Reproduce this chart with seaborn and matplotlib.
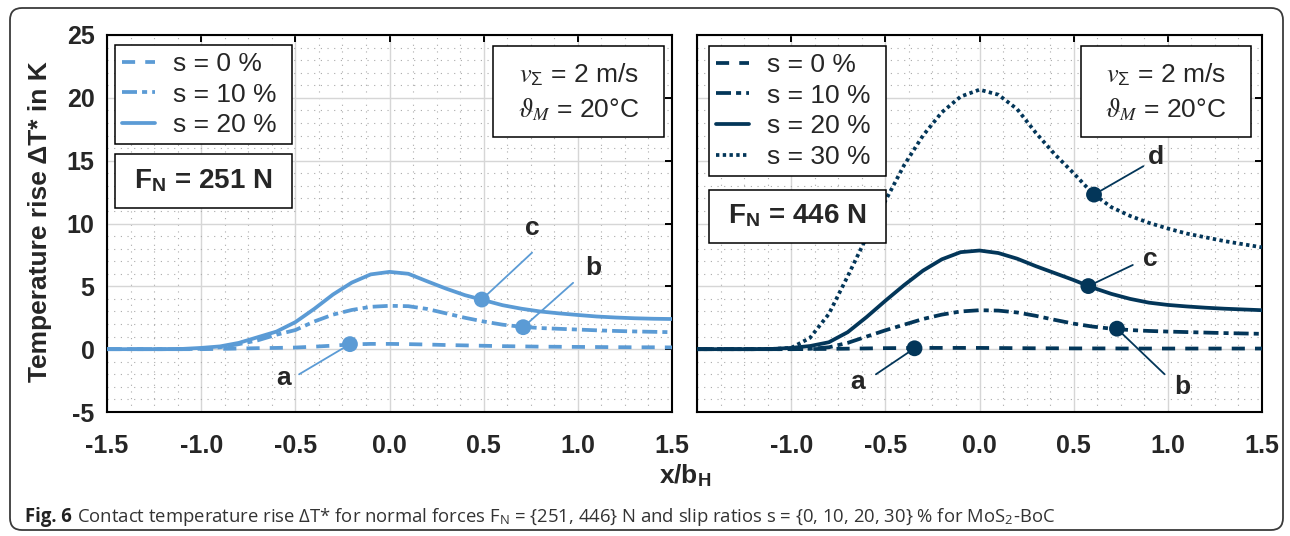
import matplotlib
matplotlib.use("Agg")
import matplotlib.pyplot as plt
import numpy as np
import pandas as pd
import seaborn as sns
from matplotlib import font_manager
from matplotlib.patches import Rectangle, FancyBboxPatch
from matplotlib.ticker import MultipleLocator

# ---------------- data ----------------
x_pos = [-1.5, -1.4, -1.3, -1.2, -1.1, -1.0, -0.9, -0.8, -0.7, -0.6, -0.5,
         -0.4, -0.3, -0.2, -0.1, 0.0, 0.1, 0.2, 0.3, 0.4, 0.5, 0.6, 0.7,
         0.8, 0.9, 1.0, 1.1, 1.2, 1.3, 1.4, 1.5]

series_names = ["s = 0 %", "s = 10 %", "s = 20 %", "s = 30 %"]

# F_N = 251 N
s0_251 = [0, 0, 0, 0, 0, 0, 0.02, 0.05, 0.08, 0.1, 0.13, 0.2, 0.28, 0.38, 0.42,
          0.42, 0.4, 0.37, 0.33, 0.3, 0.27, 0.24, 0.22, 0.2, 0.19, 0.18, 0.17,
          0.16, 0.15, 0.15, 0.14]
s10_251 = [0, 0, 0, 0, 0, 0.03, 0.15, 0.4, 0.7, 1.15, 1.52, 2.2, 2.75, 3.12, 3.37,
           3.45, 3.42, 3.2, 2.85, 2.5, 2.2, 1.95, 1.78, 1.68, 1.62, 1.56, 1.5,
           1.45, 1.41, 1.38, 1.35]
s20_251 = [0, 0, 0, 0, 0.02, 0.1, 0.22, 0.5, 0.95, 1.4, 2.15, 3.2, 4.35, 5.3, 5.95,
           6.15, 6.0, 5.4, 4.82, 4.3, 3.9, 3.5, 3.22, 3.0, 2.85, 2.72, 2.6,
           2.52, 2.46, 2.42, 2.4]

# F_N = 446 N
s0_446 = [0, 0, 0, 0, 0, 0, 0.01, 0.02, 0.04, 0.06, 0.08, 0.09, 0.1, 0.1, 0.1,
          0.1, 0.09, 0.08, 0.07, 0.07, 0.06, 0.06, 0.06, 0.05, 0.05, 0.05, 0.05,
          0.05, 0.05, 0.05, 0.05]
s10_446 = [0, 0, 0, 0, 0, 0, 0.03, 0.15, 0.5, 1.0, 1.5, 1.95, 2.4, 2.75, 3.0,
           3.1, 3.07, 2.92, 2.65, 2.33, 2.03, 1.8, 1.63, 1.52, 1.45, 1.4, 1.36,
           1.32, 1.28, 1.25, 1.22]
s20_446 = [0, 0, 0, 0, 0.02, 0.1, 0.25, 0.55, 1.35, 2.55, 3.85, 5.1, 6.25, 7.15, 7.72,
           7.85, 7.65, 7.2, 6.6, 6.05, 5.5, 4.9, 4.4, 4.0, 3.7, 3.52, 3.4,
           3.3, 3.22, 3.16, 3.1]
s30_446 = [0, 0, 0, 0, 0.02, 0.1, 0.9, 2.8, 5.8, 8.9, 11.8, 14.65, 17.0, 18.85, 20.1,
           20.65, 20.25, 19.1, 17.2, 15.5, 14.0, 12.4, 11.3, 10.6, 10.05, 9.6, 9.2,
           8.9, 8.6, 8.35, 8.1]

# marked points and their labels
mark_251_labels = ["a", "b", "c"]
mark_251_x = [-0.21, 0.71, 0.49]
mark_251_y = [0.4, 1.75, 3.95]
lead_251_x = [-0.48, 0.975, 0.757]
lead_251_y = [-2.0, 5.28, 7.68]
text_251_x = [-0.565, 1.08, 0.757]
text_251_y = [-2.3, 6.45, 9.65]

mark_446_labels = ["a", "b", "c", "d"]
mark_446_x = [-0.345, 0.73, 0.578, 0.608]
mark_446_y = [0.07, 1.63, 5.02, 12.3]
lead_446_x = [-0.55, 0.983, 0.814, 0.87]
lead_446_y = [-2.0, -2.0, 6.7, 14.56]
text_446_x = [-0.645, 1.076, 0.906, 0.935]
text_446_y = [-2.65, -3.05, 7.2, 15.3]

x_tick_vals = [-1.5, -1.0, -0.5, 0.0, 0.5, 1.0, 1.5]
x_tick_labels = ["-1.5", "-1.0", "-0.5", "0.0", "0.5", "1.0", "1.5"]
y_tick_vals = [-5, 0, 5, 10, 15, 20, 25]
y_tick_labels = ["-5", "0", "5", "10", "15", "20", "25"]

caption_bold = "Fig. 6"
caption_rest = ("Contact temperature rise \u0394T* for normal forces F$_\\mathregular{N}$ = "
                "{251, 446} N and slip ratios s = {0, 10, 20, 30} % for MoS$_\\mathregular{2}$-BoC")

# ---------------- style ----------------
sns.set_style("white")
plt.rcParams.update({
    "font.family": ["Liberation Sans", "DejaVu Sans"],
    "mathtext.fontset": "custom",
    "mathtext.rm": "Liberation Sans",
    "mathtext.it": "STIXGeneral:italic",
    "mathtext.bf": "Liberation Sans:bold",
    "mathtext.fallback": "stix",
    "axes.unicode_minus": False,
})

c251 = "#5b9bd5"
c446 = "#033659"
LW = 2.7
line_styles = {
    "s = 0 %": (0, (3.5, 2.7)),
    "s = 10 %": (0, (4.0, 1.35, 1.35, 1.35)),
    "s = 20 %": "-",
    "s = 30 %": (0, (0.9, 0.9)),
}

W, H = 1290, 536
fig = plt.figure(figsize=(W / 100, H / 100), dpi=100)
fig.patch.set_facecolor("white")


def px_axes(x0, y0, x1, y1):
    return fig.add_axes([x0 / W, 1 - y1 / H, (x1 - x0) / W, (y1 - y0) / H])


axL = px_axes(107, 35, 672, 412)
axR = px_axes(697, 35, 1262, 412)

panels = [
    (axL, c251, [s0_251, s10_251, s20_251], mark_251_labels, mark_251_x, mark_251_y,
     lead_251_x, lead_251_y, text_251_x, text_251_y),
    (axR, c446, [s0_446, s10_446, s20_446, s30_446], mark_446_labels, mark_446_x, mark_446_y,
     lead_446_x, lead_446_y, text_446_x, text_446_y),
]

for (ax, col, ser, mlab, mx, my, lx, ly, tx, ty) in panels:
    names = series_names[:len(ser)]
    df = pd.DataFrame({
        "x": np.tile(x_pos, len(ser)),
        "dT": np.concatenate(ser),
        "s": np.repeat(names, len(x_pos)),
    })
    for nm in names:
        sns.lineplot(data=df[df["s"] == nm], x="x", y="dT", ax=ax, color=col,
                     linestyle=line_styles[nm], lw=LW, errorbar=None, label=nm,
                     legend=False, zorder=3)
        ln = ax.lines[-1]
        ln.set_dash_capstyle("butt")
        ln.set_solid_joinstyle("round")

    # leader lines and labels
    for i in range(len(mlab)):
        ax.plot([mx[i], lx[i]], [my[i], ly[i]], color=col, lw=1.3, zorder=4)
        ax.text(tx[i], ty[i], mlab[i], fontsize=19, fontweight="bold",
                ha="center", va="center", zorder=8)
    sns.scatterplot(x=mx, y=my, ax=ax, color=col, s=130, edgecolor="none",
                    zorder=5, legend=False)

    ax.set_xlim(-1.5, 1.5)
    ax.set_ylim(-5, 25)
    ax.set_xlabel("")
    ax.set_ylabel("")
    ax.xaxis.set_minor_locator(MultipleLocator(0.125))
    ax.yaxis.set_minor_locator(MultipleLocator(1))
    ax.grid(which="major", color="#d6d6d6", lw=1.0, ls="-")
    ax.grid(which="minor", color="#aaaaaa", lw=0.8, ls=(0, (1, 5)))
    ax.set_axisbelow(True)
    ax.tick_params(which="major", direction="in", length=5, width=1.4,
                   top=True, right=True, color="black")
    ax.tick_params(which="minor", length=0)
    ax.tick_params(axis="x", pad=16)
    ax.tick_params(axis="y", pad=9)
    for sp in ax.spines.values():
        sp.set_linewidth(1.5)
        sp.set_color("black")

    ax.set_yticks(y_tick_vals)
    ax.set_xticks(x_tick_vals)

axL.set_xticklabels(x_tick_labels, fontsize=18, fontweight="bold")
axL.set_yticklabels(y_tick_labels, fontsize=18, fontweight="bold")
axR.set_xticklabels([""] + x_tick_labels[1:], fontsize=18, fontweight="bold")
axR.set_yticklabels([""] * len(y_tick_labels))


def legend_box(ax, handles, x0, x1, y1):
    leg = ax.legend(handles=handles, loc="upper left",
                    bbox_to_anchor=(x0, y1 - 0.3, x1 - x0, 0.3), mode="expand",
                    borderaxespad=0, fontsize=19, frameon=True, fancybox=False,
                    framealpha=1, edgecolor="black", handlelength=1.25,
                    handletextpad=0.68, borderpad=0.27, labelspacing=0.25)
    leg.get_frame().set_linewidth(1.1)
    leg.set_zorder(9)


def rect_box(ax, x0, y0, x1, y1):
    ax.add_patch(Rectangle((x0, y0), x1 - x0, y1 - y0, transform=ax.transAxes,
                           facecolor="white", edgecolor="black", lw=1.1, zorder=9))


legend_box(axL, axL.lines[:3], 0.0142, 0.3274, 0.9735)
legend_box(axR, axR.lines[:4], 0.0212, 0.3345, 0.971)

# force boxes
rect_box(axL, 0.0142, 0.541, 0.3274, 0.6844)
axL.text(0.171, 0.6127, "F$_\\mathregular{N}$ = 251 N", transform=axL.transAxes,
         fontsize=20, fontweight="bold", ha="center", va="center", zorder=10)
rect_box(axR, 0.0212, 0.4483, 0.3345, 0.589)
axR.text(0.178, 0.5186, "F$_\\mathregular{N}$ = 446 N", transform=axR.transAxes,
         fontsize=20, fontweight="bold", ha="center", va="center", zorder=10)

# condition boxes
for ax, bx0, bx1, cx in [(axL, 0.6832, 0.9859, 0.8345), (axR, 0.6796, 0.9805, 0.830)]:
    rect_box(ax, bx0, 0.7294, bx1, 0.970)
    ax.text(cx, 0.894, "$v_{\\mathrm{\\Sigma}}$ = 2 m/s", transform=ax.transAxes,
            fontsize=19, ha="center", va="center", zorder=10)
    ax.text(cx, 0.801, "$\\vartheta_M$ = 20\u00b0C", transform=ax.transAxes,
            fontsize=19, ha="center", va="center", zorder=10)

# axis titles
fig.text(40 / W, 1 - 222 / H, "Temperature rise \u0394T* in K", rotation=90,
         fontsize=19, fontweight="bold", ha="center", va="center")
fig.text(685 / W, 1 - 476 / H, "x/b$_\\mathregular{H}$", fontsize=19,
         fontweight="bold", ha="center", va="center")

# outer rounded frame
border = FancyBboxPatch((0.10, 0.06), 12.73, 5.22,
                        boxstyle="round,pad=0,rounding_size=0.12",
                        transform=fig.dpi_scale_trans, facecolor="none",
                        edgecolor="#3a3a3a", lw=1.3)
fig.add_artist(border)

# caption
avail = {f.name for f in font_manager.fontManager.ttflist}
cap_family = next((f for f in ["Liberation Sans Narrow", "Open Sans", "Noto Sans"]
                   if f in avail), "DejaVu Sans")
cap_y = 1 - 517 / H
fs = 12.0
t1 = fig.text(25 / W, cap_y, caption_bold, fontsize=fs, fontweight="bold",
              family=cap_family, color="#222222", ha="left", va="center")
t2 = fig.text(0, cap_y, caption_rest, fontsize=fs, family=cap_family,
              color="#333333", ha="left", va="center")
renderer = fig.canvas.get_renderer()
for _ in range(2):
    bb1 = t1.get_window_extent(renderer)
    t2.set_x((bb1.x1 + 0.28 * fs * 100 / 72) / W)
    bb2 = t2.get_window_extent(renderer)
    scale = (1059 - 25) / (bb2.x1 - 25)
    fs = fs * scale
    t1.set_fontsize(fs)
    t2.set_fontsize(fs)
bb1 = t1.get_window_extent(renderer)
t2.set_x((bb1.x1 + 0.28 * fs * 100 / 72) / W)

fig.savefig("out.png", dpi=100, facecolor="white")
